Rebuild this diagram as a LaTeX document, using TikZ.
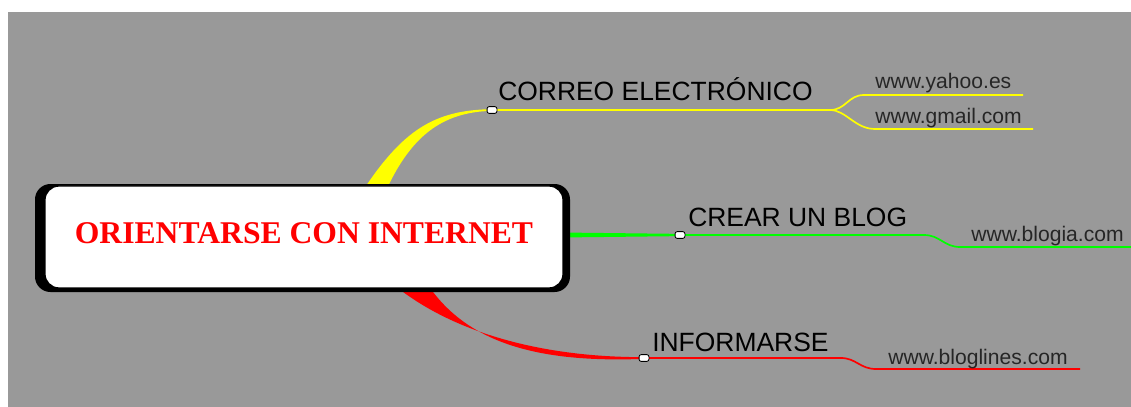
\documentclass[tikz,border=0pt]{standalone}
\usepackage{fontspec}
\setmainfont{Liberation Sans}
\newfontfamily\serifa{Liberation Serif}
\definecolor{fondo}{RGB}{153,153,153}
\definecolor{amarillo}{RGB}{255,255,0}
\definecolor{verde}{RGB}{0,255,0}
\definecolor{rojo}{RGB}{255,0,0}

\begin{document}
\begin{tikzpicture}[x=0.025cm,y=-0.025cm,
	marca/.style={draw=black,fill=white,line width=0.6pt,rounded corners=1.5pt,minimum width=7pt,minimum height=4.8pt,inner sep=0pt},
	rama/.style={anchor=base west,inner sep=0pt,font=\fontsize{18.8}{20}\selectfont},
	enlace/.style={anchor=base west,inner sep=0pt,font=\fontsize{15}{17}\selectfont,text=black!85}]
	\useasboundingbox (0,0) rectangle (1131,407);
	\fill[fondo] (8,12) rectangle (1131,407);
	
	\coordinate (pc) at (492,110);
	\coordinate (pb) at (680,235);
	\coordinate (pi) at (644,358);
	
	% ramas gruesas
	\fill[amarillo] (360,195) .. controls (402,130) and (434,110) .. ([yshift=0.6pt]pc)
		-- ([yshift=-0.6pt]pc) .. controls (442,112) and (410,136) .. (384,195) -- cycle;
	\fill[verde] (560,232.5) -- ([yshift=0.8pt]pb) -- ([yshift=-0.8pt]pb) -- (560,237.5) -- cycle;
	\fill[rojo] (394,285) .. controls (452,332) and (540,357.3) .. ([yshift=0.6pt]pi)
		-- ([yshift=-0.6pt]pi) .. controls (540,363) and (468,344) .. (428,285) -- cycle;
	
	% ramas finas
	\draw[amarillo,line width=1.2pt] (pc) -- (830,110) coordinate (sc);
	\draw[amarillo,line width=1.2pt] (sc) .. controls (846,110) and (848,95) .. (864,95) -- (1023,95) coordinate (fy);
	\draw[amarillo,line width=1.2pt] (sc) .. controls (846,110) and (855,129) .. (875,129) -- (1033,129) coordinate (fg);
	\draw[verde,line width=1.2pt] (pb) -- (924,235) .. controls (940,235) and (944,247) .. (960,247) -- (1131,247) coordinate (fb);
	\draw[rojo,line width=1.2pt] (pi) -- (841,358) .. controls (856,358) and (860,369) .. (876,369) -- (1080,369) coordinate (fl);
	
	% nodo central
	\fill[black,rounded corners=11pt] (35,184) rectangle (570,292);
	\node[draw=black,line width=1pt,fill=white,rounded corners=10pt,minimum width=368.5pt,minimum height=72.6pt,
		inner sep=0pt,text depth=6pt,text=rojo,font=\serifa\bfseries\fontsize{22.5}{24}\selectfont] (centro) at (304,237) {ORIENTARSE CON INTERNET};
	
	\node[marca] (mc) at (pc) {};
	\node[marca] (mb) at (pb) {};
	\node[marca] (mi) at (pi) {};
	
	\node[rama] (correo) at (498,101) {CORREO ELECTRÓNICO};
	\node[rama] (blog) at (688,226) {CREAR UN BLOG};
	\node[rama] (informarse) at (652,351) {INFORMARSE};
	
	\node[enlace] (yahoo) at (875,89) {www.yahoo.es};
	\node[enlace] (gmail) at (875,123) {www.gmail.com};
	\node[enlace] (blogia) at (971,241) {www.blogia.com};
	\node[enlace] (bloglines) at (888,364) {www.bloglines.com};
\end{tikzpicture}
\end{document}
